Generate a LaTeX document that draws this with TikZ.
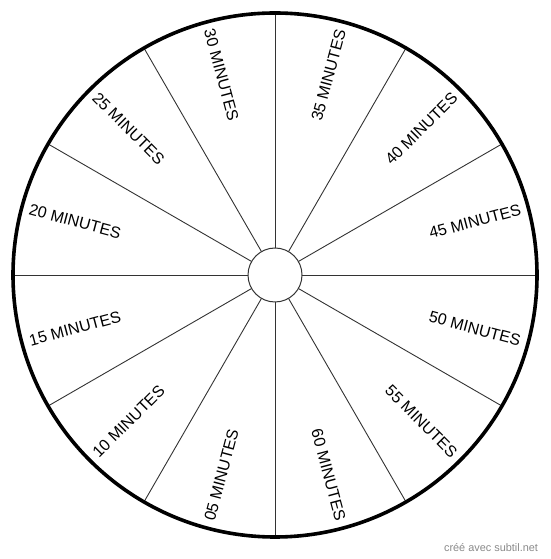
\documentclass[tikz,border=0pt]{standalone}
\usepackage{fontspec}
\setmainfont{Liberation Sans}
\usetikzlibrary{calc}
\definecolor{spokegray}{HTML}{333333}
\definecolor{creditgray}{HTML}{8A8A8A}
\tikzset{
  spoke/.style={draw=spokegray, line width=0.9pt},
  rim/.style={draw=black, line width=3.6pt},
  hub/.style={draw=spokegray, line width=1pt, fill=white},
  minlabel/.style={font=\fontsize{16}{18}\selectfont, inner sep=0pt, text=black},
  credit/.style={font=\fontsize{10.9}{12}\selectfont, text=creditgray, inner sep=0pt}
}
\begin{document}
\begin{tikzpicture}[x=1pt,y=1pt]
\useasboundingbox (0,0) rectangle (550,559);
\coordinate (c) at (275,284);
\foreach \a in {0,30,...,330}
  \draw[spoke, shift={(c)}] (\a:27) -- (\a:262);
\draw[rim] (c) circle[radius=262];
\draw[hub] (c) circle[radius=27];
% right half: text reads outward
\foreach \a/\t in {75/35, 45/40, 15/45, -15/50, -45/55, -75/60}
  \node[minlabel, rotate=\a] (m\t) at ($(c)+(\a:207)$) {\t{} MINUTES};
% left half: text reads inward
\foreach \a/\r/\t in {105/-75/30, 135/-45/25, 165/-15/20, 195/15/15, 225/45/10, 255/75/05}
  \node[minlabel, rotate=\r] (m\t) at ($(c)+(\a:207)$) {\t{} MINUTES};
\node[credit] (credit) at (491,11) {créé avec subtil.net};
\end{tikzpicture}
\end{document}
